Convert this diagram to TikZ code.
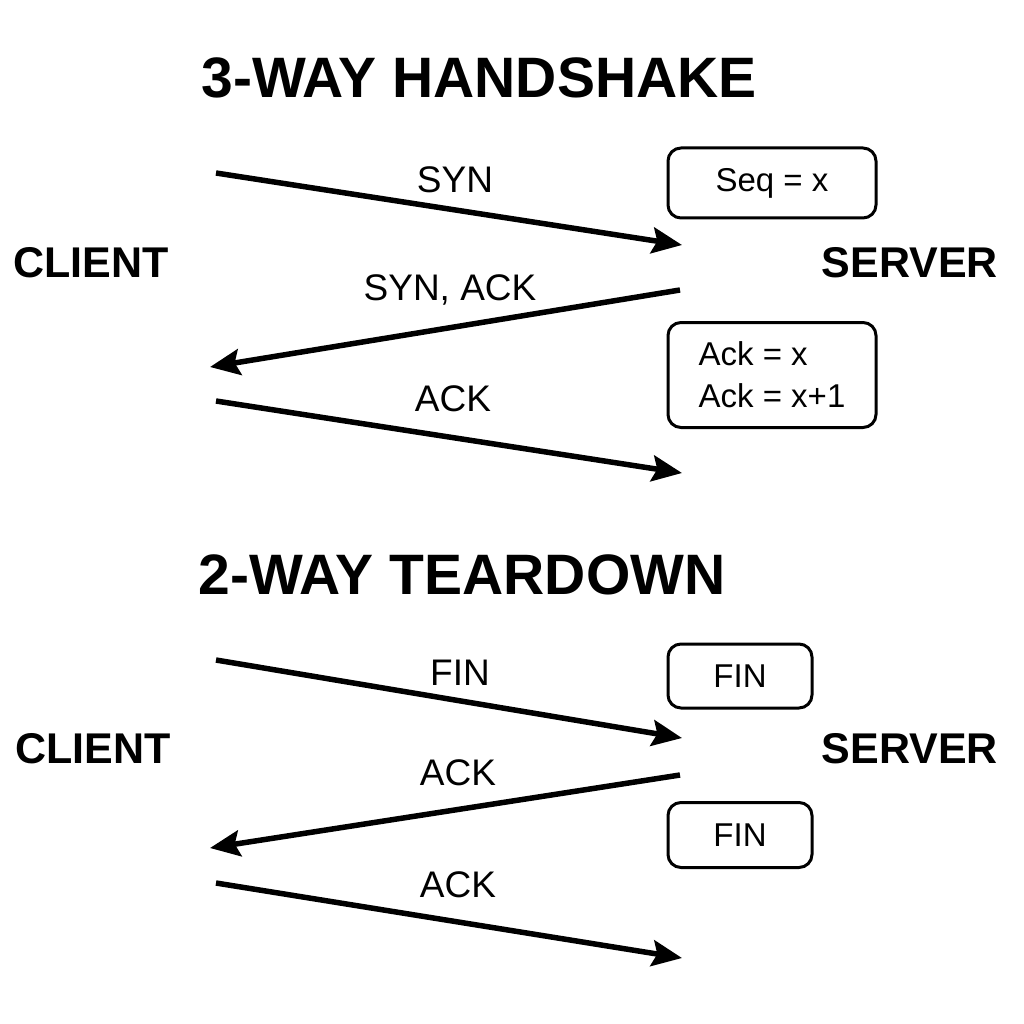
\documentclass[tikz,border=0pt]{standalone}
\usepackage{fontspec}
\setmainfont{Liberation Sans}
\usetikzlibrary{arrows.meta}
\usetikzlibrary{positioning}
\tikzset{msg/.style = {line width=5.5pt, -{Stealth[length=30pt, width=26pt, inset=5pt]}},
         lbl/.style = {font=\fontsize{37}{40}\selectfont},
         side/.style = {font=\bfseries\fontsize{43}{46}\selectfont},
         head/.style = {font=\bfseries\fontsize{57}{60}\selectfont},
         state/.style = {draw, line width=3pt, rounded corners=13pt,
                         font=\fontsize{33}{42}\selectfont, align=left}}

\begin{document}
\begin{tikzpicture}[x=1pt, y=-1pt]
    \useasboundingbox (0, 0) rectangle (1024, 1024);

    % handshake
    \node [head] (hs) at (479, 78) {3-WAY HANDSHAKE};
    \node [side] (cl1) at (91, 263) {CLIENT};
    \node [side] (sv1) at (910, 263) {SERVER};

    \coordinate (a1) at (216, 173);  \coordinate (b1) at (682, 245);
    \coordinate (a2) at (680, 290);  \coordinate (b2) at (210, 367);
    \coordinate (a3) at (216, 401);  \coordinate (b3) at (682, 473);

    \draw [msg] (a1) -- (b1);
    \draw [msg] (a2) -- (b2);
    \draw [msg] (a3) -- (b3);

    \node [lbl] (syn) at (455, 180) {SYN};
    \node [lbl] (synack) at (450, 290) {SYN, ACK};
    \node [lbl] (ack1) at (453, 399) {ACK};

    \node [state, minimum width=208pt, minimum height=70pt] (seq) at (772, 183) {Seq = x};
    \node [state, minimum width=208pt, minimum height=105pt] (acks) at (772, 375) {Ack = x\\Ack = x+1};

    % teardown
    \node [head] (td) at (462, 575) {2-WAY TEARDOWN};
    \node [side] (cl2) at (93, 749) {CLIENT};
    \node [side] (sv2) at (910, 749) {SERVER};

    \coordinate (a4) at (216, 660);  \coordinate (b4) at (682, 738);
    \coordinate (a5) at (680, 775);  \coordinate (b5) at (210, 848);
    \coordinate (a6) at (216, 883);  \coordinate (b6) at (682, 958);

    \draw [msg] (a4) -- (b4);
    \draw [msg] (a5) -- (b5);
    \draw [msg] (a6) -- (b6);

    \node [lbl] (fin) at (460, 673) {FIN};
    \node [lbl] (ack2) at (458, 773) {ACK};
    \node [lbl] (ack3) at (458, 885) {ACK};

    \node [state, minimum width=144pt, minimum height=64pt] (fin1) at (740, 676) {FIN};
    \node [state, minimum width=144pt, minimum height=65pt] (fin2) at (740, 835) {FIN};
\end{tikzpicture}
\end{document}
